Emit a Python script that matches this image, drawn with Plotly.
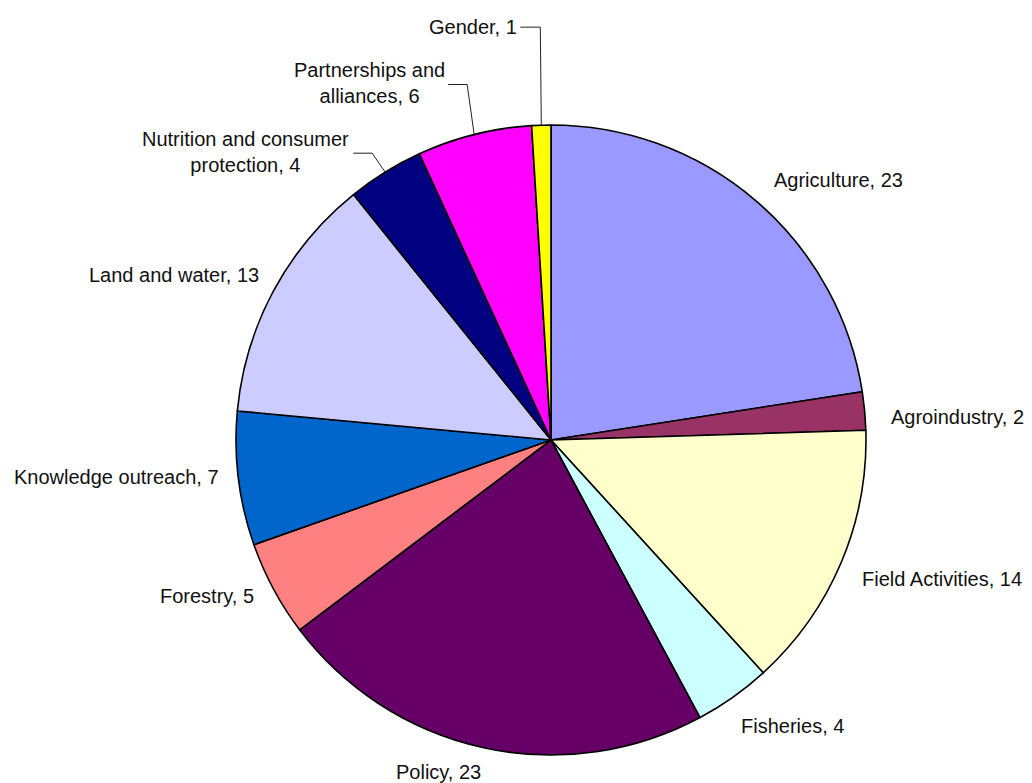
import math
import plotly.graph_objects as go

# ---- data ----
categories = ["Agriculture", "Agroindustry", "Field Activities", "Fisheries", "Policy",
              "Forestry", "Knowledge outreach", "Land and water",
              "Nutrition and consumer protection", "Partnerships and alliances", "Gender"]
values = [23, 2, 14, 4, 23, 5, 7, 13, 4, 6, 1]
# where each label wraps onto a second line (word index), None = single line
wrap_after_word = [None, None, None, None, None, None, None, None, 3, 2, None]

# ---- style ----
colors = ["#9999FF", "#993366", "#FFFFCC", "#CCFFFF", "#660066", "#FF8080",
          "#0066CC", "#CCCCFF", "#000080", "#FF00FF", "#FFFF00"]
W, H = 1032, 783
CX, CY, R = 551, 440, 315          # pie centre / radius in pixels
# label centre offsets (px) from the slice's outer mid-point
label_off = [(83, -21), (93, 6), (101, 16), (60, 29), (-45, 24), (-66, 7),
             (-122, -2), (-99, -16), (-140, -20), (-105, -52), (-68, -98)]
# leader lines: (start offset, elbow offset) from the slice's outer mid-point, or None
leaders = [None, None, None, None, None, None, None, None,
           ((-32, -19), (-13, -19)), ((-26, -50), (-7, -50)), ((-21, -98), (-1, -98))]

fig = go.Figure(go.Pie(
    labels=categories, values=values, sort=False, direction="clockwise", rotation=0,
    marker=dict(colors=colors, line=dict(color="black", width=1.6)),
    textinfo="none", hoverinfo="label+value",
    domain=dict(x=[(CX - R) / W, (CX + R) / W], y=[1 - (CY + R) / H, 1 - (CY - R) / H]),
))

total = sum(values)
cum = 0
annotations, shapes = [], []
for i, (cat, v) in enumerate(zip(categories, values)):
    mid = (cum + v / 2) / total * 2 * math.pi
    cum += v
    ex, ey = CX + R * math.sin(mid), CY - R * math.cos(mid)
    words = cat.split(" ")
    if wrap_after_word[i]:
        k = wrap_after_word[i]
        text = " ".join(words[:k]) + "<br>" + " ".join(words[k:]) + f", {v}"
    else:
        text = f"{cat}, {v}"
    dx, dy = label_off[i]
    annotations.append(dict(
        x=(ex + dx) / W, y=1 - (ey + dy) / H, xref="paper", yref="paper",
        text=text, showarrow=False, xanchor="center", yanchor="middle", align="center",
        font=dict(family="Liberation Sans, Arial, sans-serif", size=20, color="#111111")))
    if leaders[i]:
        (sx, sy), (bx, by) = leaders[i]
        pts = [(ex + sx, ey + sy), (ex + bx, ey + by), (ex, ey)]
        path = "M " + " L ".join(f"{x / W},{1 - y / H}" for x, y in pts)
        shapes.append(dict(type="path", xref="paper", yref="paper", path=path,
                           line=dict(color="#222222", width=1)))

fig.update_layout(
    width=W, height=H, margin=dict(l=0, r=0, t=0, b=0),
    paper_bgcolor="white", plot_bgcolor="white", showlegend=False,
    annotations=annotations, shapes=shapes,
)
fig.write_html("out.html")
